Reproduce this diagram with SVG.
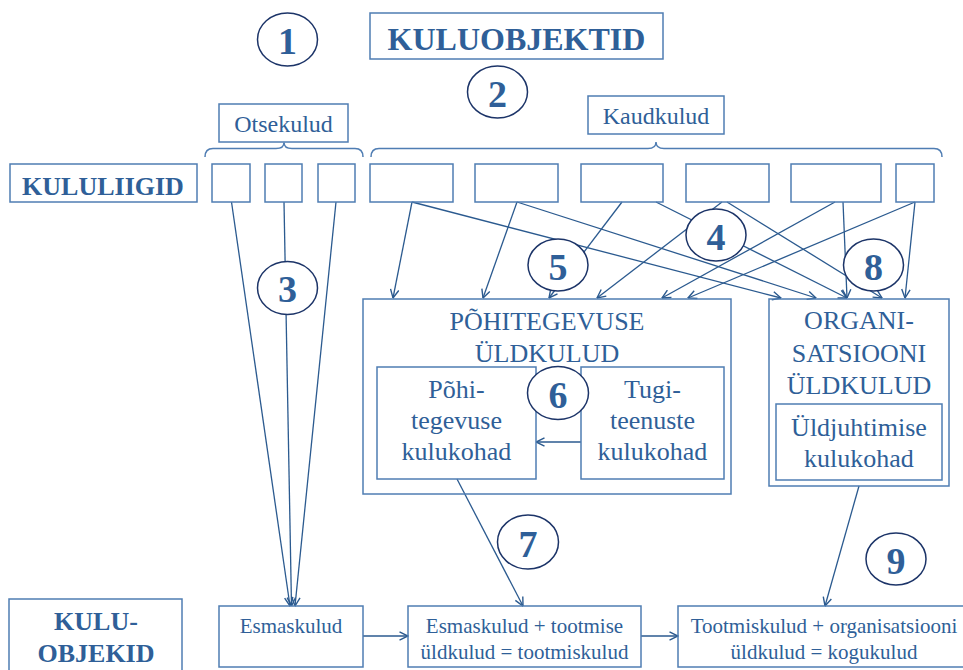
<svg xmlns="http://www.w3.org/2000/svg" width="963" height="670" viewBox="0 0 963 670">
<defs>
<marker id="arr" viewBox="0 0 10 10" refX="9.5" refY="5" markerWidth="10" markerHeight="10" markerUnits="userSpaceOnUse" orient="auto">
<path d="M1,0.8 L9.5,5 L1,9.2" fill="none" stroke="#2b5a8f" stroke-width="1.4"/>
</marker>
<style>
.box{fill:none;stroke:#4f7db3;stroke-width:1.5}
.circ{fill:#fff;stroke:#1c3468;stroke-width:1.5}
.brace{fill:none;stroke:#4f7db3;stroke-width:1.5}
.t{font-family:"Liberation Serif","Times New Roman",serif;fill:#2f5f98;text-anchor:middle}
.b{font-weight:bold}
.num{font-size:38px;font-weight:bold}
.l{font-size:26px}
.s{font-size:21px}
.m{font-size:24px}
.c{fill:none;stroke:#2b5a8f;stroke-width:1.3;marker-end:url(#arr)}
</style>
</defs>
<rect x="0" y="0" width="963" height="670" fill="#fff"/>

<g id="connectors">
<line class="c" x1="231.5" y1="202" x2="290" y2="606"/>
<line class="c" x1="284" y1="202" x2="291.5" y2="606"/>
<line class="c" x1="336" y1="202" x2="295" y2="606"/>
<line class="c" x1="412" y1="202" x2="393" y2="298"/>
<line class="c" x1="412" y1="202" x2="781" y2="298"/>
<line class="c" x1="517" y1="202" x2="483" y2="298"/>
<line class="c" x1="517" y1="202" x2="816" y2="298"/>
<line class="c" x1="622" y1="202" x2="549" y2="298"/>
<line class="c" x1="656" y1="202" x2="847" y2="298"/>
<line class="c" x1="722" y1="202" x2="597" y2="298"/>
<line class="c" x1="727" y1="202" x2="882" y2="298"/>
<line class="c" x1="835" y1="202" x2="662" y2="298"/>
<line class="c" x1="843" y1="202" x2="847" y2="298"/>
<line class="c" x1="915" y1="202" x2="688" y2="298"/>
<line class="c" x1="915" y1="202" x2="905" y2="298"/>
<line class="c" x1="581" y1="442" x2="536" y2="442"/>
<line class="c" x1="457" y1="479" x2="523" y2="606"/>
<line class="c" x1="859" y1="486" x2="825" y2="606"/>
<line class="c" x1="363" y1="636" x2="408" y2="636"/>
<line class="c" x1="641" y1="636" x2="678" y2="636"/>
</g>

<g id="kuluobjektid-title">
<rect class="box" x="370" y="13" width="293" height="46"/>
<text class="t b" x="516.5" y="50" font-size="32">KULUOBJEKTID</text>
</g>
<g id="n1"><ellipse class="circ" cx="287.5" cy="39.5" rx="30" ry="26.5"/><text class="t num" x="287.5" y="54">1</text></g>
<g id="n2"><ellipse class="circ" cx="497.5" cy="92" rx="30" ry="26"/><text class="t num" x="497.5" y="106.5">2</text></g>

<g id="otsekulud">
<rect class="box" x="219" y="104" width="129" height="38"/>
<text class="t m" x="283.5" y="131.5">Otsekulud</text>
<path class="brace" d="M205,157 Q205,148.5 213,148.5 L276,148.5 Q284,148.5 284,142.5 Q284,148.5 292,148.5 L355,148.5 Q363,148.5 363,157"/>
</g>
<g id="kaudkulud">
<rect class="box" x="588" y="96" width="136" height="38"/>
<text class="t m" x="656" y="124">Kaudkulud</text>
<path class="brace" d="M371,157 Q371,148.5 379,148.5 L648,148.5 Q656,148.5 656,142 Q656,148.5 664,148.5 L934,148.5 Q942,148.5 942,157"/>
</g>

<g id="kululiigid">
<rect class="box" x="10" y="164" width="187" height="38"/>
<text class="t b" x="103" y="195" font-size="26">KULULIIGID</text>
</g>
<g id="liik1"><rect class="box" x="212" y="164" width="38" height="38"/></g>
<g id="liik2"><rect class="box" x="265" y="164" width="37" height="38"/></g>
<g id="liik3"><rect class="box" x="318" y="164" width="37" height="38"/></g>
<g id="liik4"><rect class="box" x="370" y="164" width="83" height="38"/></g>
<g id="liik5"><rect class="box" x="475" y="164" width="83" height="38"/></g>
<g id="liik6"><rect class="box" x="581" y="164" width="82" height="38"/></g>
<g id="liik7"><rect class="box" x="686" y="164" width="83" height="38"/></g>
<g id="liik8"><rect class="box" x="791" y="164" width="90" height="38"/></g>
<g id="liik9"><rect class="box" x="896" y="164" width="38" height="38"/></g>

<g id="n3"><ellipse class="circ" cx="287.5" cy="288" rx="30" ry="26.5"/><text class="t num" x="287.5" y="302">3</text></g>

<g id="pohitegevuse-uldkulud">
<rect class="box" x="363" y="299" width="368" height="195"/>
<text class="t l" x="547" y="330">PÕHITEGEVUSE</text>
<text class="t l" x="547" y="362">ÜLDKULUD</text>
</g>
<g id="pohitegevuse-kulukohad">
<rect class="box" x="377" y="367" width="159" height="112"/>
<text class="t l" x="456.5" y="398">Põhi-</text>
<text class="t l" x="456.5" y="429">tegevuse</text>
<text class="t l" x="456.5" y="460">kulukohad</text>
</g>
<g id="tugiteenuste-kulukohad">
<rect class="box" x="581" y="367" width="143" height="112"/>
<text class="t l" x="652.5" y="398">Tugi-</text>
<text class="t l" x="652.5" y="429">teenuste</text>
<text class="t l" x="652.5" y="460">kulukohad</text>
</g>
<g id="organisatsiooni-uldkulud">
<rect class="box" x="769" y="299" width="180" height="187"/>
<text class="t l" x="859" y="329">ORGANI-</text>
<text class="t l" x="859" y="362">SATSIOONI</text>
<text class="t l" x="859" y="394">ÜLDKULUD</text>
</g>
<g id="uldjuhtimise-kulukohad">
<rect class="box" x="776" y="404" width="166" height="76"/>
<text class="t l" x="859" y="436">Üldjuhtimise</text>
<text class="t l" x="859" y="467">kulukohad</text>
</g>

<g id="n4"><ellipse class="circ" cx="716" cy="235" rx="30" ry="26"/><text class="t num" x="716" y="249.5">4</text></g>
<g id="n5"><ellipse class="circ" cx="558" cy="265" rx="30" ry="26"/><text class="t num" x="558" y="279.5">5</text></g>
<g id="n6"><ellipse class="circ" cx="558" cy="393" rx="30.5" ry="26.5"/><text class="t num" x="558" y="407.5">6</text></g>
<g id="n8"><ellipse class="circ" cx="873.5" cy="265" rx="30" ry="26"/><text class="t num" x="873.5" y="279.5">8</text></g>
<g id="n7"><ellipse class="circ" cx="528" cy="542" rx="30.5" ry="27"/><text class="t num" x="528" y="556.5">7</text></g>
<g id="n9"><ellipse class="circ" cx="896" cy="559" rx="30" ry="26"/><text class="t num" x="896" y="573.5">9</text></g>

<g id="kulu-objekid">
<rect class="box" x="9" y="599" width="173" height="80"/>
<text class="t b" x="96" y="630" font-size="26">KULU-</text>
<text class="t b" x="96" y="661.5" font-size="26">OBJEKID</text>
</g>
<g id="esmaskulud">
<rect class="box" x="219" y="606" width="144" height="61"/>
<text class="t s" x="291" y="633">Esmaskulud</text>
</g>
<g id="tootmiskulud">
<rect class="box" x="408" y="606" width="233" height="61"/>
<text class="t s" x="524.5" y="633">Esmaskulud + tootmise</text>
<text class="t s" x="524.5" y="658.5">üldkulud = tootmiskulud</text>
</g>
<g id="kogukulud">
<rect class="box" x="678" y="606" width="292" height="61"/>
<text class="t s" x="824" y="633">Tootmiskulud + organisatsiooni</text>
<text class="t s" x="824" y="658.5">üldkulud = kogukulud</text>
</g>
</svg>
